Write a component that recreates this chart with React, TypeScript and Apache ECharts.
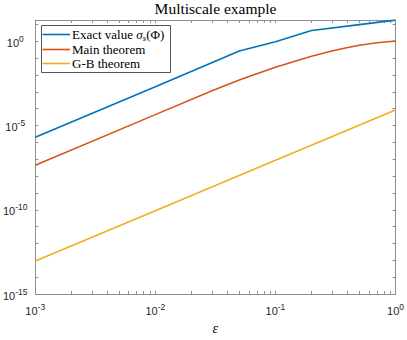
import React, { useEffect, useRef } from 'react';
import * as echarts from 'echarts';

// Data (log-log plot)
const exactEps = [0.001, 0.01, 0.05, 0.1, 0.2, 0.5, 1];
const exactValues = [2.0e-6, 2.0e-3, 0.26, 0.93, 4.3, 9.6, 17.8];
const mainEps = [0.001, 0.01, 0.03, 0.05, 0.07, 0.1, 0.15, 0.2, 0.3, 0.4, 0.5, 0.7, 0.9, 1];
const mainValues = [4.4e-8, 4.4e-5, 1.2e-3, 5.0e-3, 1.15e-2, 2.8e-2, 6.9e-2, 0.129, 0.27, 0.42, 0.575, 0.81, 0.955, 1.0];
const gbEps = [0.001, 0.01, 0.1, 1];
const gbValues = [9.1e-14, 8.8e-11, 8.6e-8, 8.3e-5];

const seriesNames = ['Exact value σs(Φ)', 'Main theorem', 'G-B theorem'];
// legend label pieces: [text, italic, subscript]
const legendPieces: [string, boolean, boolean][][] = [
  [['Exact value ', false, false], ['σ', true, false], ['s', true, true], ['(Φ)', false, false]],
  [['Main theorem', false, false]],
  [['G-B theorem', false, false]],
];
const seriesColors = ['#0072BD', '#D95319', '#EDB120'];

const xTickLabels = [1e-3, 1e-2, 1e-1, 1];
const yTickLabels = [1e-15, 1e-10, 1e-5, 1];
const xMin = 1e-3;
const xMax = 1;
const yMin = 1e-15;
const yMax = 18;

const lg = (v: number) => Math.log10(v);

function decadeMinorTicks(lo: number, hi: number): number[] {
  const out: number[] = [];
  for (let e = Math.round(lg(lo)); e < Math.round(lg(hi)); e++) {
    for (let k = 1; k <= 9; k++) out.push(lg(k * Math.pow(10, e)));
  }
  out.push(lg(hi));
  return out;
}
function decadeTicks(lo: number, hi: number): number[] {
  const out: number[] = [];
  for (let e = Math.round(lg(lo)); e <= Math.floor(lg(hi)); e++) out.push(e);
  return out;
}

export default function App() {
  const ref = useRef<HTMLDivElement>(null);
  useEffect(() => {
    if (!ref.current) return;
    const chart = echarts.init(ref.current, undefined, { renderer: 'svg' });
    const axisColor = '#8f8f8f';
    const labelColor = '#262626';
    const serif = 'Liberation Serif';
    const rich = {
      b: { fontFamily: 'Liberation Sans', fontSize: 11, color: labelColor, verticalAlign: 'bottom' },
      s: { fontFamily: 'Liberation Sans', fontSize: 8.5, color: labelColor, verticalAlign: 'top' },
    };
    const powFmt = (v: number) => `{b|10}{s|${Math.round(v)}}`;
    const xMajor = xTickLabels.map(lg);
    const yMajor = yTickLabels.map(lg);
    const xAll = decadeMinorTicks(xMin, xMax);
    const yAll = decadeTicks(yMin, yMax);
    const lineStyle = { color: axisColor, width: 1 };
    const baseX = { type: 'value', min: lg(xMin), max: lg(xMax), interval: 1, splitLine: { show: false } };
    const baseY = { type: 'value', min: lg(yMin), max: lg(yMax), interval: 5, splitLine: { show: false } };

    // text measurement for composing the legend labels
    const ctx = document.createElement('canvas').getContext('2d') as CanvasRenderingContext2D;
    const measure = (t: string, size: number, italic: boolean) => {
      ctx.font = `${italic ? 'italic ' : ''}${size}px "${serif}"`;
      return ctx.measureText(t).width;
    };

    // Legend box
    const legendLeft = 41;
    const legendTop = 25;
    const rowY = [34.5, 49.5, 63.5];
    const legendElems: any[] = [
      {
        type: 'polyline',
        shape: {
          points: [
            [legendLeft + 0.5, legendTop + 0.5],
            [legendLeft + 129.5, legendTop + 0.5],
            [legendLeft + 129.5, legendTop + 47.5],
            [legendLeft + 0.5, legendTop + 47.5],
            [legendLeft + 0.5, legendTop + 0.5],
          ],
        },
        style: { fill: null, stroke: '#555555', lineWidth: 1 },
        z: 102,
      },
      {
        type: 'rect',
        shape: { x: legendLeft + 1, y: legendTop + 1, width: 128, height: 46 },
        style: { fill: '#ffffff' },
        z: 100,
      },
    ];
    seriesNames.forEach((_, i) => {
      legendElems.push({
        type: 'line',
        shape: { x1: legendLeft + 1.5, y1: rowY[i], x2: legendLeft + 29, y2: rowY[i] },
        style: { stroke: seriesColors[i], lineWidth: 1.6 },
        z: 101,
      });
      let x = legendLeft + 31;
      legendPieces[i].forEach(([t, italic, sub]) => {
        const size = sub ? 9 : 13;
        legendElems.push({
          type: 'text',
          x,
          y: rowY[i] + (sub ? 3.5 : 0),
          style: {
            text: t,
            fontFamily: serif,
            fontSize: size,
            fontStyle: italic ? 'italic' : 'normal',
            fill: '#000',
            align: 'left',
            verticalAlign: 'middle',
          },
          z: 101,
        });
        x += measure(t, size, italic);
      });
    });

    const option: any = {
      animation: false,
      backgroundColor: '#ffffff',
      grid: { left: 35, top: 20, width: 361, height: 279, containLabel: false },
      graphic: [
        {
          type: 'text',
          x: 215.5,
          y: 8,
          style: {
            text: 'Multiscale example',
            fontFamily: serif,
            fontSize: 15.5,
            fill: '#000',
            align: 'center',
            verticalAlign: 'middle',
          },
        },
        ...legendElems,
      ],
      xAxis: [
        {
          ...baseX,
          position: 'bottom',
          axisLine: { show: true, onZero: false, lineStyle },
          axisTick: { show: true, inside: true, length: 3, customValues: xAll, lineStyle },
          axisLabel: { customValues: xMajor, formatter: powFmt, rich, margin: 8, lineHeight: 14 },
          name: 'ε',
          nameLocation: 'middle',
          nameGap: 26,
          nameTextStyle: { fontFamily: serif, fontStyle: 'italic', fontSize: 14, color: '#000' },
        },
        {
          ...baseX,
          position: 'top',
          axisLine: { show: true, onZero: false, lineStyle },
          axisTick: { show: true, inside: true, length: 3, customValues: xAll, lineStyle },
          axisLabel: { show: false },
        },
      ],
      yAxis: [
        {
          ...baseY,
          position: 'left',
          axisLine: { show: true, onZero: false, lineStyle },
          axisTick: { show: true, inside: true, length: 3, customValues: yAll, lineStyle },
          axisLabel: { customValues: yMajor, formatter: powFmt, rich, align: 'center', margin: 20, lineHeight: 14 },
        },
        {
          ...baseY,
          position: 'right',
          axisLine: { show: true, onZero: false, lineStyle },
          axisTick: { show: true, inside: true, length: 3, customValues: yAll, lineStyle },
          axisLabel: { show: false },
        },
      ],
      series: [
        {
          name: seriesNames[0],
          type: 'line',
          symbol: 'none',
          xAxisIndex: 0,
          yAxisIndex: 0,
          lineStyle: { color: seriesColors[0], width: 1.6 },
          itemStyle: { color: seriesColors[0] },
          data: exactEps.map((x, i) => [lg(x), lg(exactValues[i])]),
        },
        {
          name: seriesNames[1],
          type: 'line',
          symbol: 'none',
          xAxisIndex: 0,
          yAxisIndex: 0,
          lineStyle: { color: seriesColors[1], width: 1.6 },
          itemStyle: { color: seriesColors[1] },
          data: mainEps.map((x, i) => [lg(x), lg(mainValues[i])]),
        },
        {
          name: seriesNames[2],
          type: 'line',
          symbol: 'none',
          xAxisIndex: 0,
          yAxisIndex: 0,
          lineStyle: { color: seriesColors[2], width: 1.6 },
          itemStyle: { color: seriesColors[2] },
          data: gbEps.map((x, i) => [lg(x), lg(gbValues[i])]),
        },
      ],
    };
    chart.setOption(option);
    return () => chart.dispose();
  }, []);
  return (
    <div
      ref={ref}
      style={{ position: 'fixed', left: 0, top: 0, width: 407, height: 340, background: '#fff' }}
    />
  );
}
